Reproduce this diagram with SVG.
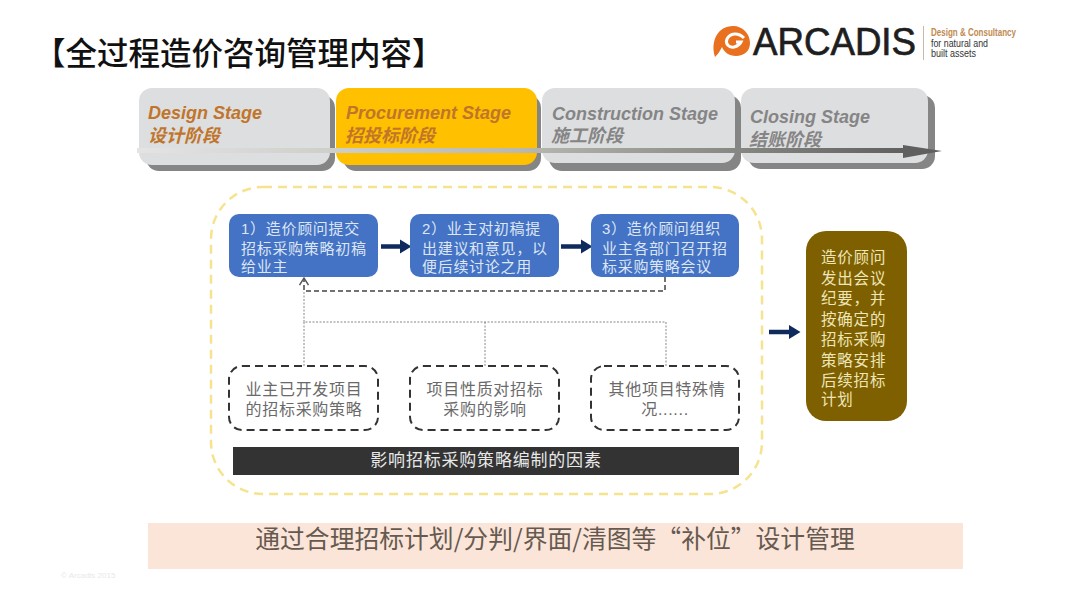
<svg xmlns="http://www.w3.org/2000/svg" width="1080" height="608" viewBox="0 0 1080 608">
<style>
text{font-family:"Liberation Sans","Noto Sans CJK SC",sans-serif}
.en{font-size:18px;font-weight:700;font-style:italic}
.cn{font-size:18px;font-weight:700;font-style:italic}
.or{fill:#C0752B}.gr{fill:#858585}
.st{fill:#DDDEE0}.sh{fill:#858585}
.blue{fill:#4472C4}
.bt{font-size:15px;fill:#DCE6F5;letter-spacing:.7px}
.ft{font-size:16px;fill:#6A6A6A;text-anchor:middle;letter-spacing:.7px}
.dbox{fill:#fff;stroke:#333;stroke-width:2;stroke-dasharray:8 5}
.thin{fill:none;stroke:#888;stroke-width:1;stroke-dasharray:2 1.5}
.flow{fill:none;stroke:#0F2A5C;stroke-width:4.5;marker-end:url(#ah)}
.brt{font-size:15.5px;fill:#EDE6B8;letter-spacing:.8px}
</style>
<defs>
<marker id="ah" markerWidth="3" markerHeight="4" refX="1.6" refY="2" orient="auto"><path d="M0 .4L2.6 2L0 3.6Z" fill="#0F2A5C"/></marker>
<marker id="oa" markerWidth="12" markerHeight="10" refX="9" refY="5" orient="auto" markerUnits="userSpaceOnUse"><path d="M2 .5L9 5L2 9.5" fill="none" stroke="#555" stroke-width="1.4"/></marker>
<linearGradient id="tl" x1="0" x2="1" y1="0" y2="0"><stop offset="0" stop-color="#E4E4E4"/><stop offset=".5" stop-color="#B8B8B0"/><stop offset="1" stop-color="#5F5F5F"/></linearGradient>
</defs>
<g id="title"><text x="34" y="65" font-size="31.500" fill="#111" style="font-weight:500">【全过程造价咨询管理内容】</text></g>
<g id="logo">
<path d="M715 57C710 41 718 26 733 26C743 26 750 34 750 43C750 51 744 56 736 56C729 56 724 52 722 47C720 51 718 54 715 57Z" fill="#E8701E"/>
<path d="M744 38C738 32 730 33 727 39C725 44 729 48 734 47C738 46 740 44 741 42L736 42" fill="none" stroke="#fff" stroke-width="3"/>
<text x="753" y="55" font-size="38" fill="#1E1E1E" stroke="#1E1E1E" stroke-width=".7" textLength="163" lengthAdjust="spacingAndGlyphs">ARCADIS</text>
<rect x="923" y="26" width="1" height="34" fill="#C9B9A6"/>
<text x="931" y="36" font-size="10" font-weight="700" fill="#C08A50" textLength="85" lengthAdjust="spacingAndGlyphs">Design &amp; Consultancy</text>
<text x="931" y="47" font-size="10" fill="#333" textLength="57" lengthAdjust="spacingAndGlyphs">for natural and</text>
<text x="931" y="57" font-size="10" fill="#333" textLength="45" lengthAdjust="spacingAndGlyphs">built assets</text>
</g>
<g id="stage1"><rect class="sh" x="146" y="95" width="189" height="76" rx="13"/><rect class="st" x="139" y="88" width="191" height="77" rx="13"/><text class="en or" x="148" y="119">Design Stage</text><text class="cn or" x="148" y="142">设计阶段</text></g>
<g id="stage2"><rect class="sh" x="343" y="95" width="198" height="76" rx="13"/><rect x="336" y="88" width="201" height="77" rx="13" fill="#FFC000"/><text class="en or" x="346" y="119">Procurement Stage</text><text class="cn or" x="345" y="142">招投标阶段</text></g>
<g id="stage3"><rect class="sh" x="549" y="95" width="192" height="76" rx="13"/><rect class="st" x="542" y="88" width="193" height="75" rx="13"/><text class="en gr" x="552" y="120">Construction Stage</text><text class="cn gr" x="551" y="142">施工阶段</text></g>
<g id="stage4"><rect class="sh" x="748" y="95" width="187" height="74" rx="13"/><rect class="st" x="741" y="88" width="187" height="75" rx="13"/><text class="en gr" x="750" y="123">Closing Stage</text><text class="cn gr" x="749" y="146">结账阶段</text></g>
<g id="timeline"><rect x="137" y="148" width="770" height="5" fill="url(#tl)"/><path d="M903 145L942 151L903 158Z" fill="#5F5F5F"/></g>
<g id="frame"><rect x="211" y="187" width="551" height="307" rx="52" fill="none" stroke="#F5E38E" stroke-width="2.500" stroke-dasharray="9 6"/></g>
<g id="connectors">
<path class="flow" d="M381 246.500H407"/>
<path class="flow" d="M561 246.500H588"/>
<path class="flow" d="M769 332H796"/>
<path d="M665 277V291H304V278" fill="none" stroke="#444" stroke-width="1.500" stroke-dasharray="5 3" marker-end="url(#oa)"/>
<path class="thin" d="M304 366V322H666V366M485 322V366M304 322V292"/>
</g>
<g id="step1"><rect class="blue" x="229" y="214" width="149" height="63" rx="10"/><text class="bt" x="241" y="234">1）造价顾问提交</text><text class="bt" x="241" y="254">招标采购策略初稿</text><text class="bt" x="241" y="272">给业主</text></g>
<g id="step2"><rect class="blue" x="410" y="214" width="149" height="63" rx="10"/><text class="bt" x="422" y="234">2）业主对初稿提</text><text class="bt" x="422" y="254">出建议和意见，以</text><text class="bt" x="422" y="272">便后续讨论之用</text></g>
<g id="step3"><rect class="blue" x="591" y="214" width="148" height="63" rx="10"/><text class="bt" x="602" y="234">3）造价顾问组织</text><text class="bt" x="602" y="254">业主各部门召开招</text><text class="bt" x="602" y="272">标采购策略会议</text></g>
<g id="factor1"><rect class="dbox" x="229" y="366" width="149" height="64" rx="13"/><text class="ft" x="304" y="395">业主已开发项目</text><text class="ft" x="304" y="415">的招标采购策略</text></g>
<g id="factor2"><rect class="dbox" x="410" y="366" width="149" height="64" rx="13"/><text class="ft" x="485" y="395">项目性质对招标</text><text class="ft" x="485" y="415">采购的影响</text></g>
<g id="factor3"><rect class="dbox" x="591" y="366" width="148" height="64" rx="13"/><text class="ft" x="667" y="395">其他项目特殊情</text><text class="ft" x="665" y="415">况......</text></g>
<g id="factors-bar"><rect x="233" y="447" width="506" height="28" fill="#333"/><text x="486" y="466" font-size="17" fill="#E8E8E8" text-anchor="middle" letter-spacing=".8">影响招标采购策略编制的因素</text></g>
<g id="result"><rect x="806" y="231" width="101" height="190" rx="20" fill="#7F6000"/>
<text class="brt" x="821" y="263">造价顾问</text><text class="brt" x="821" y="284">发出会议</text><text class="brt" x="821" y="304">纪要，并</text><text class="brt" x="821" y="325">按确定的</text><text class="brt" x="821" y="345">招标采购</text><text class="brt" x="821" y="366">策略安排</text><text class="brt" x="821" y="386">后续招标</text><text class="brt" x="821" y="405">计划</text></g>
<g id="summary"><rect x="148" y="523" width="815" height="46" fill="#FBE5D9"/><text x="555" y="548" font-size="24.800" fill="#665A50" text-anchor="middle" style="font-family:'Noto Sans CJK SC',sans-serif">通过合理招标计划/分判/界面/清图等“补位”设计管理</text></g>
<text x="61" y="578" font-size="8" fill="#E8E8E8">© Arcadis 2015</text>
</svg>
